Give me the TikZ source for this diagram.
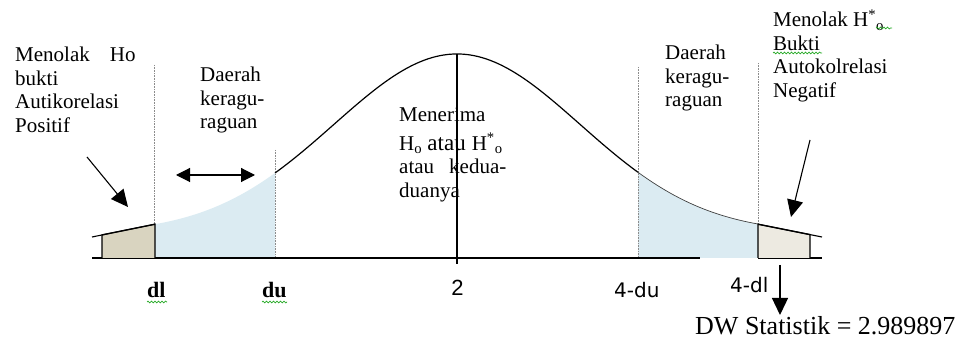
\documentclass[tikz,border=0pt]{standalone}
\usepackage{fontspec}
\setmainfont{Liberation Serif}
\newfontfamily\numfont{DejaVu Sans}
\newfontfamily\twofont{Liberation Sans}
\usetikzlibrary{arrows.meta,decorations.pathmorphing}
\definecolor{shadeblue}{RGB}{219,235,242}
\definecolor{tanL}{RGB}{217,212,192}
\definecolor{tanR}{RGB}{237,234,225}
\definecolor{spellgreen}{RGB}{40,170,40}
\newcommand\mytab[1]{\begin{tabular}[t]{@{}l@{}}#1\end{tabular}}
\tikzset{
  txt/.style={anchor=base west, inner sep=0pt, font=\fontsize{21}{23.5}\selectfont},
  axlabel/.style={anchor=base west, inner sep=0pt},
  dotline/.style={densely dotted, black!45, line width=0.6pt},
  bigarrow/.style={-{Triangle[length=17pt,width=16pt]}, line width=1.1pt},
  dblarrow/.style={{Triangle[length=14pt,width=14pt]}-{Triangle[length=14pt,width=14pt]}, line width=1.1pt},
  spell/.style={decorate, decoration={snake, amplitude=0.9pt, segment length=3.5pt}, spellgreen, line width=0.7pt},
  declare function={g(\x)=258-(25+179*exp(-0.33*((\x-457)/100)^2));}
}
\begin{document}
\begin{tikzpicture}[x=1pt,y=-1pt]
\useasboundingbox (0,0) rectangle (962,347);
% shaded regions
\fill[shadeblue] (155,258) -- plot[domain=155:275,samples=50] (\x,{g(\x)}) -- (275,258) -- cycle;
\fill[shadeblue] (638,258) -- plot[domain=638:758,samples=50] (\x,{g(\x)}) -- (758,258) -- cycle;
% dotted boundaries
\draw[dotline] (154,65) -- (154,258);
\draw[dotline] (275,150) -- (275,258);
\draw[dotline] (638,67) -- (638,258);
\draw[dotline] (758,63) -- (758,258);
% axis
\draw[line width=1.3pt] (92,258) -- (700,258);
\draw[line width=1.3pt] (758,258) -- (822,258);
% tail boxes
\filldraw[fill=tanL, draw=black, line width=1.3pt] (102,258) -- (102,234.9) -- (155,224.2) -- (155,258);
\draw[line width=1.1pt] (92,237) -- (155,224.2);
\filldraw[fill=tanR, draw=black, line width=1.3pt] (758,258) -- (758,224.2) -- (810,234.6) -- (810,258);
\draw[line width=1.1pt] (758,224.2) -- (822,237);
% curve
\draw[line width=1.2pt] plot[domain=275:638,samples=150] (\x,{g(\x)});
\draw[line width=0.7pt, black!75] plot[domain=638:758,samples=60] (\x,{g(\x)});
% centre line
\draw[line width=1.2pt] (457,54) -- (457,264);
% arrow end points
\coordinate (la1) at (87,157);
\coordinate (la2) at (128,207);
\coordinate (da1) at (176,175);
\coordinate (da2) at (255,175);
\coordinate (ra1) at (810,140);
\coordinate (ra2) at (791,217);
\coordinate (va1) at (780,265);
\coordinate (va2) at (780,315);
\draw[bigarrow] (la1) -- (la2);
\draw[dblarrow] (da1) -- (da2);
\draw[bigarrow] (ra1) -- (ra2);
\draw[-{Triangle[length=17pt,width=16pt]}, line width=1.3pt] (va1) -- (va2);
% texts
\node[txt] (tleft) at (15,62) {\mytab{Menolak\hspace{20pt}Ho\\ bukti\\ Autikorelasi\\ Positif}};
\node[txt] (tdl) at (200,82) {\mytab{Daerah\\ keragu-\\ raguan}};
\node[txt] (tmid) at (399,122) {\mytab{Menerima\\[4pt] H\textsubscript{o} {\fontsize{23}{23}\selectfont atau}\hspace{6pt}H\textsuperscript{*}\textsubscript{o}\\ atau\hspace{15pt}kedua-\\ duanya}};
\node[txt] (tdr) at (665,60) {\mytab{Daerah\\ keragu-\\ raguan}};
\node[txt] (tright) at (773,27) {\mytab{Menolak H\textsuperscript{*}\textsubscript{o}\\ Bukti\\ Autokolrelasi\\ Negatif}};
% axis labels
\node[axlabel, font=\fontsize{22}{22}\selectfont\bfseries] (ldl) at (147,298) {dl};
\node[axlabel, font=\fontsize{22}{22}\selectfont\bfseries] (ldu) at (262,298) {du};
\node[anchor=base, inner sep=0pt, font=\twofont\fontsize{22}{22}\selectfont] (ltwo) at (457.5,296) {2};
\node[axlabel, font=\numfont\fontsize{20}{20}\selectfont] (l4du) at (614,298) {4-du};
\node[axlabel, font=\numfont\fontsize{20}{20}\selectfont] (l4dl) at (730,293) {4-dl};
\node[axlabel, font=\fontsize{26}{26}\selectfont] (dw) at (695,335) {DW Statistik = 2.989897};
% spell-check underlines
\draw[spell] (147,302) -- (167,302);
\draw[spell] (262,302) -- (287,302);
\draw[spell] (773,53) -- (822,53);
\draw[spell] (876,28) -- (892,28);
\end{tikzpicture}
\end{document}
